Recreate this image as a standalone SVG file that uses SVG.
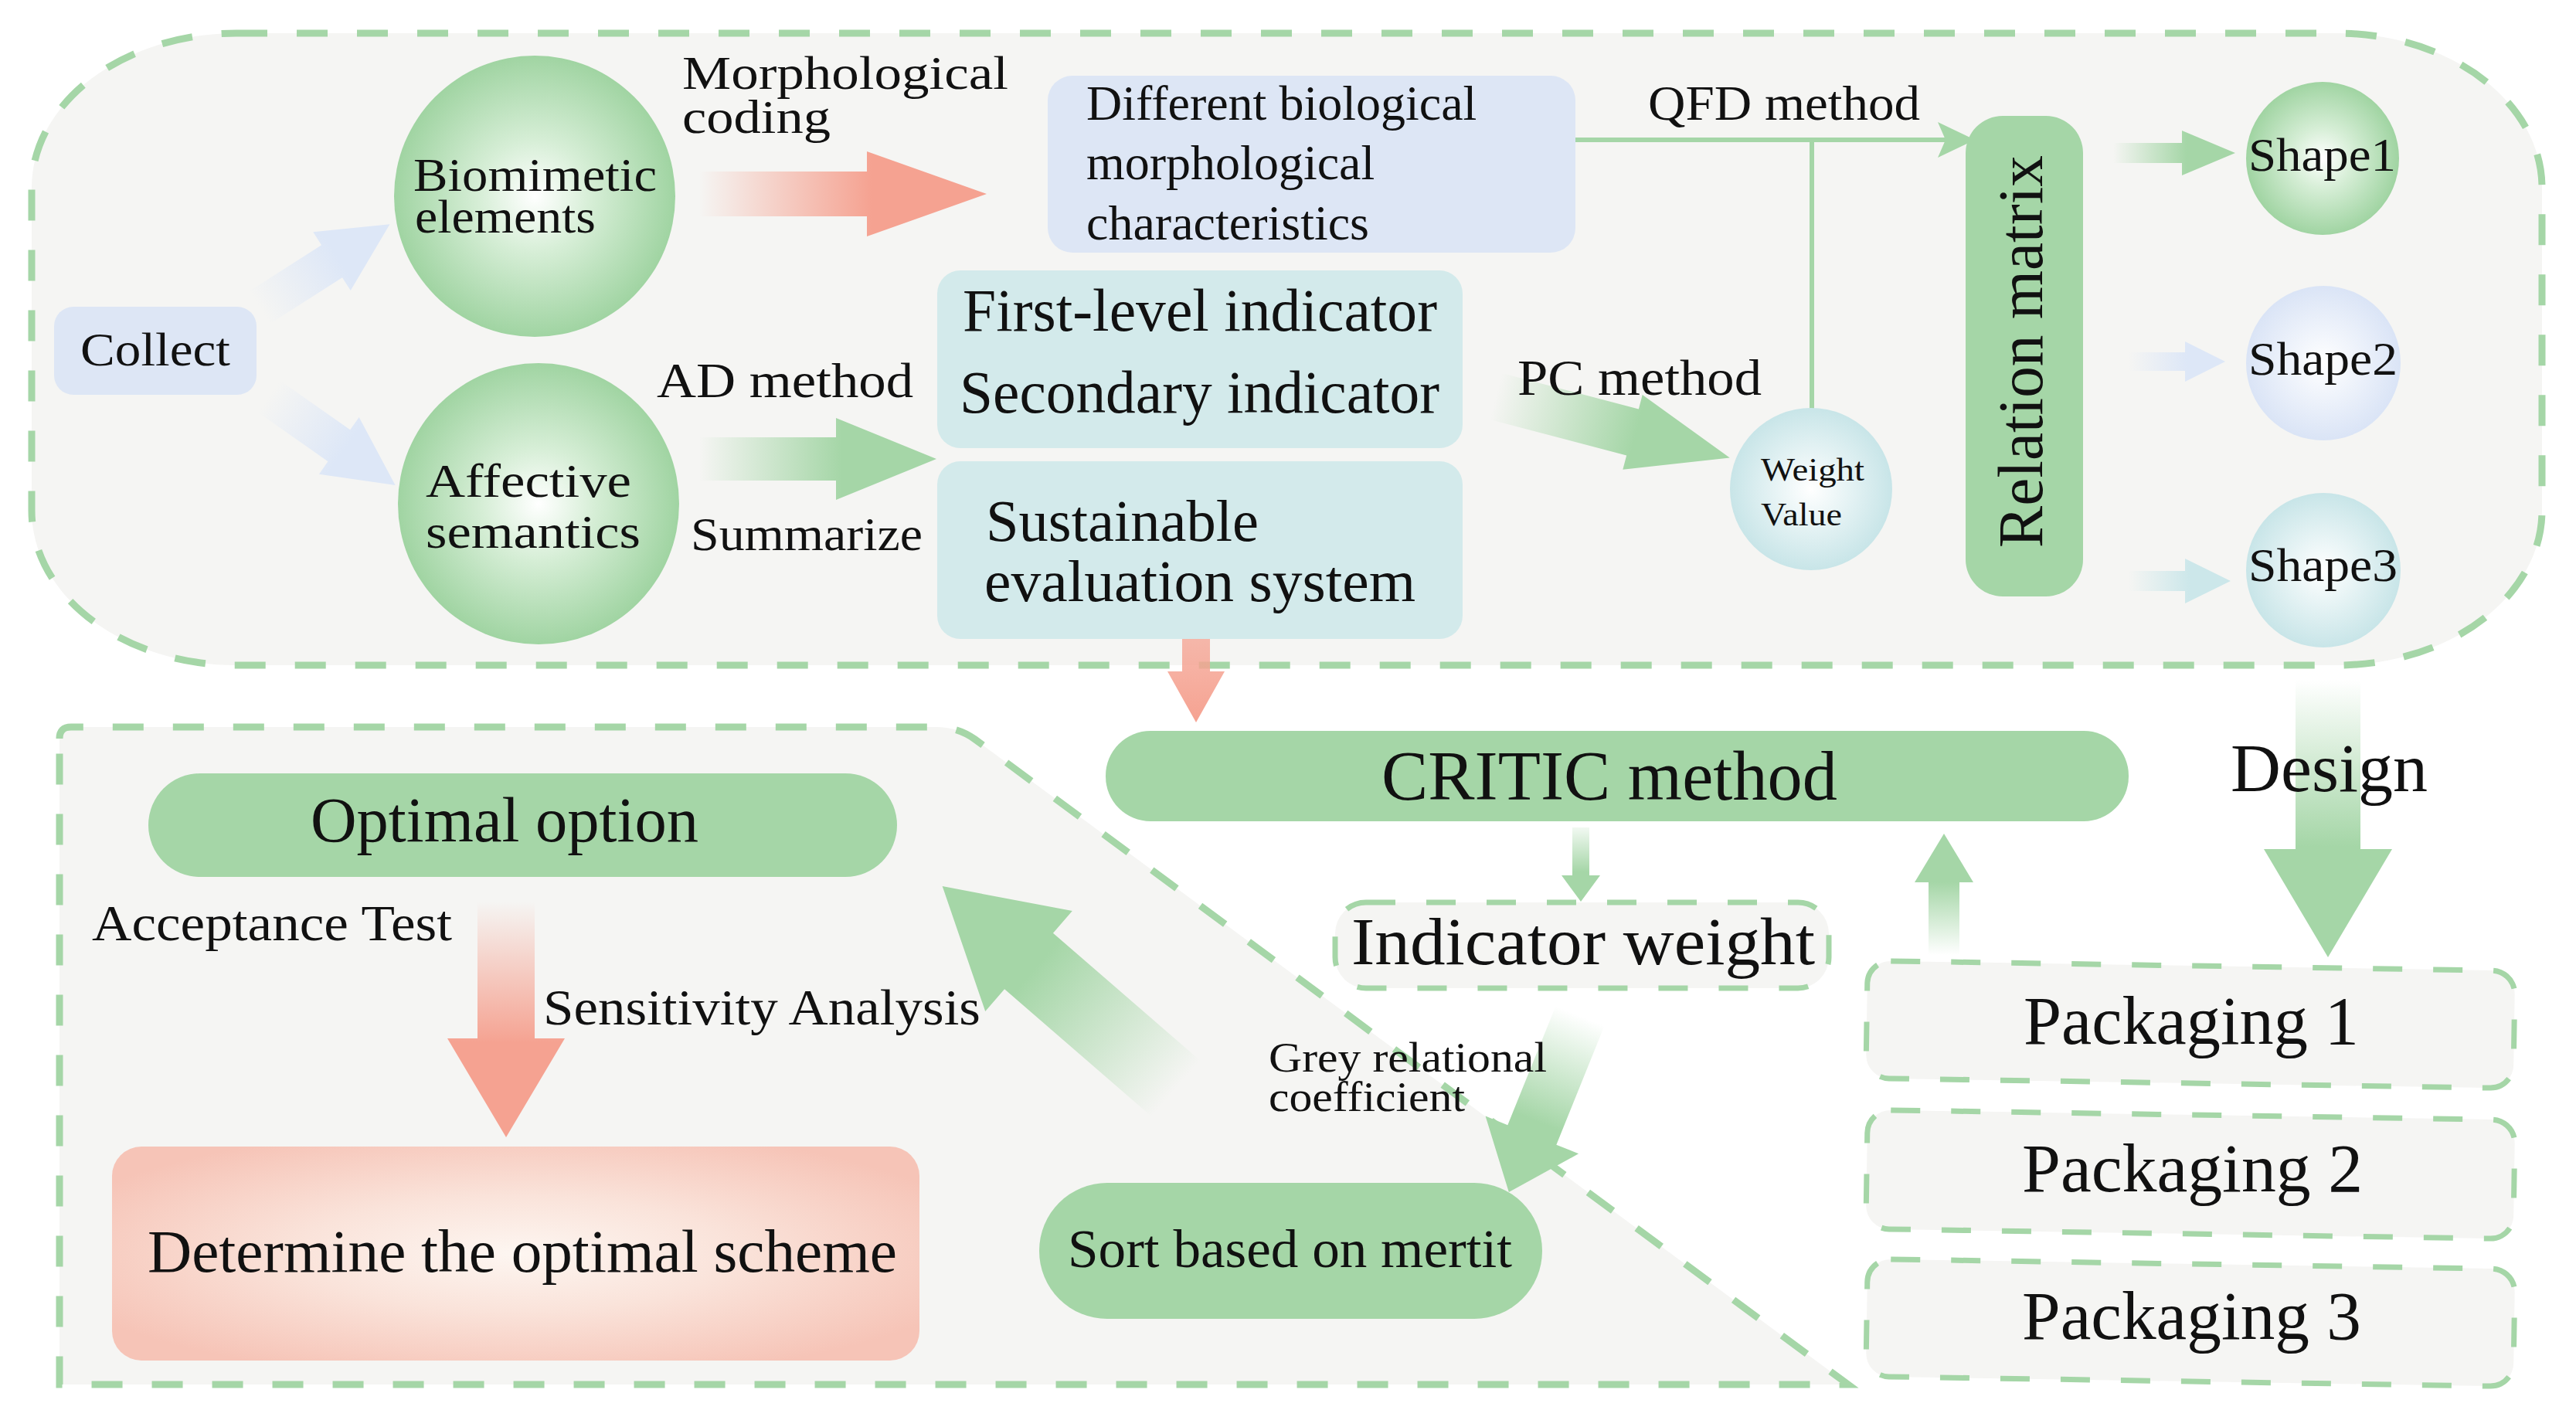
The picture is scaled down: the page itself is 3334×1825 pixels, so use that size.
<svg xmlns="http://www.w3.org/2000/svg" width="3334" height="1825" viewBox="0 0 3334 1825">
<defs>
<style>
.t{font-family:"Liberation Serif","Times New Roman",serif;fill:#111;}
.region{fill:#f5f5f3;stroke:#a5d6a7;stroke-width:9;stroke-dasharray:40 38;}
.dbox{fill:#f5f5f3;stroke:#a5d6a7;stroke-width:7;stroke-dasharray:38 40;}
.green{fill:#a5d6a7;}
.blueBox{fill:#dde6f5;}
.tealBox{fill:#d3eaeb;}
.line{stroke:#a5d6a7;stroke-width:6;fill:none;}
</style>
<linearGradient id="fGreen" x1="0" y1="0" x2="1" y2="0"><stop offset="0" stop-color="#a5d6a7" stop-opacity="0"/><stop offset="0.6" stop-color="#a5d6a7" stop-opacity="1"/></linearGradient>
<linearGradient id="fGreenS" x1="0" y1="0" x2="1" y2="0"><stop offset="0" stop-color="#a5d6a7" stop-opacity="0.15"/><stop offset="0.6" stop-color="#a5d6a7" stop-opacity="1"/></linearGradient>
<linearGradient id="fPink" x1="0" y1="0" x2="1" y2="0"><stop offset="0" stop-color="#f5a291" stop-opacity="0"/><stop offset="0.6" stop-color="#f5a291" stop-opacity="1"/></linearGradient>
<linearGradient id="fPinkS" x1="0" y1="0" x2="1" y2="0"><stop offset="0" stop-color="#f5a291" stop-opacity="0.75"/><stop offset="1" stop-color="#f5a291" stop-opacity="1"/></linearGradient>
<linearGradient id="fBlue" x1="0" y1="0" x2="1" y2="0"><stop offset="0" stop-color="#dde7f7" stop-opacity="0"/><stop offset="0.6" stop-color="#dde7f7" stop-opacity="1"/></linearGradient>
<linearGradient id="fTeal" x1="0" y1="0" x2="1" y2="0"><stop offset="0" stop-color="#cce7ea" stop-opacity="0"/><stop offset="0.6" stop-color="#cce7ea" stop-opacity="1"/></linearGradient>
<radialGradient id="rGreen" cx="0.5" cy="0.5" r="0.5"><stop offset="0" stop-color="#ffffff"/><stop offset="0.4" stop-color="#d6eed6"/><stop offset="1" stop-color="#a0d4a2"/></radialGradient>
<radialGradient id="rBlue" cx="0.5" cy="0.5" r="0.5"><stop offset="0" stop-color="#ffffff"/><stop offset="1" stop-color="#dae4f6"/></radialGradient>
<radialGradient id="rTeal" cx="0.5" cy="0.5" r="0.5"><stop offset="0" stop-color="#ffffff"/><stop offset="1" stop-color="#c8e5e8"/></radialGradient>
<radialGradient id="rPink" cx="0.5" cy="0.5" r="0.6"><stop offset="0" stop-color="#fdf6f1"/><stop offset="0.45" stop-color="#fae3da"/><stop offset="1" stop-color="#f6c4b7"/></radialGradient>
</defs>
<rect width="3334" height="1825" fill="#ffffff"/>

<g id="regions">
<rect class="region" x="41" y="43" width="3249" height="818" rx="265" ry="200"/>
<path class="region" d="M77,956 Q77,941 92,941 L1211,941 Q1240,941 1262,957 L2392,1792 L77,1792 Z"/>
</g>

<g id="connectors">
<g transform="translate(336,398) rotate(-32.6)"><path fill="url(#fBlue)" d="M0,-25 L111,-25 L111,-45 L200,0 L111,45 L111,25 L0,25Z"/></g>
<g transform="translate(348,513) rotate(35.1)"><path fill="url(#fBlue)" d="M0,-25 L111,-25 L111,-45 L200,0 L111,45 L111,25 L0,25Z"/></g>
<g transform="translate(905,251)"><path fill="url(#fPink)" d="M0,-29 L217,-29 L217,-55 L372,0 L217,55 L217,29 L0,29Z"/></g>
<g transform="translate(905,594)"><path fill="url(#fGreen)" d="M0,-28 L177,-28 L177,-53 L307,0 L177,53 L177,28 L0,28Z"/></g>
<g transform="translate(1936,513) rotate(14.7)"><path fill="url(#fGreen)" d="M0,-31 L183,-31 L183,-50 L313,0 L183,50 L183,31 L0,31Z"/></g>
<g transform="translate(2735,198)"><path fill="url(#fGreen)" d="M0,-13 L89,-13 L89,-29 L158,0 L89,29 L89,13 L0,13Z"/></g>
<g transform="translate(2755,468)"><path fill="url(#fBlue)" d="M0,-12 L73,-12 L73,-26 L125,0 L73,26 L73,12 L0,12Z"/></g>
<g transform="translate(2755,752)"><path fill="url(#fTeal)" d="M0,-13 L73,-13 L73,-29 L132,0 L73,29 L73,13 L0,13Z"/></g>
<g transform="translate(1548,827) rotate(90)"><path fill="url(#fPinkS)" d="M0,-18 L42,-18 L42,-37 L108,0 L42,37 L42,18 L0,18Z"/></g>
<g transform="translate(655,1167) rotate(90)"><path fill="url(#fPink)" d="M0,-37 L177,-37 L177,-76 L305,0 L177,76 L177,37 L0,37Z"/></g>
<g transform="translate(1522,1409) rotate(-139.1)"><path fill="url(#fGreen)" d="M0,-48 L252,-48 L252,-86 L400,0 L252,86 L252,48 L0,48Z"/></g>
<g transform="translate(2046,1071) rotate(90)"><path fill="url(#fGreenS)" d="M0,-11 L62,-11 L62,-25 L96,0 L62,25 L62,11 L0,11Z"/></g>
<g transform="translate(2045,1315) rotate(112)"><path fill="url(#fGreen)" d="M0,-34 L166,-34 L166,-65 L246,0 L166,65 L166,34 L0,34Z"/></g>
<g transform="translate(2516,1236) rotate(-90)"><path fill="url(#fGreen)" d="M0,-20 L94,-20 L94,-38 L157,0 L94,38 L94,20 L0,20Z"/></g>
<g transform="translate(3013,880) rotate(90)"><path fill="url(#fGreen)" d="M0,-42 L219,-42 L219,-83 L359,0 L219,83 L219,42 L0,42Z"/></g>
<path class="line" d="M2039,181 L2520,181"/>
<path class="line" d="M2345,181 L2345,530"/>
<polygon class="green" points="2508,158 2556,181 2508,204 2518,181"/>
</g>

<g id="collect"><rect class="blueBox" x="70" y="397" width="262" height="114" rx="25"/><text class="t" x="104" y="473" font-size="62" textLength="194" lengthAdjust="spacingAndGlyphs">Collect</text></g>
<g id="biomimetic"><circle cx="692" cy="254" r="182" fill="url(#rGreen)"/><text class="t" x="535" y="247" font-size="62" textLength="315" lengthAdjust="spacingAndGlyphs">Biomimetic</text><text class="t" x="537" y="301" font-size="62" textLength="234" lengthAdjust="spacingAndGlyphs">elements</text></g>
<g id="affective"><circle cx="697" cy="652" r="182" fill="url(#rGreen)"/><text class="t" x="551" y="643" font-size="62" textLength="266" lengthAdjust="spacingAndGlyphs">Affective</text><text class="t" x="551" y="709" font-size="62" textLength="278" lengthAdjust="spacingAndGlyphs">semantics</text></g>
<g id="morph-label"><text class="t" x="883" y="115" font-size="62" textLength="422" lengthAdjust="spacingAndGlyphs">Morphological</text><text class="t" x="883" y="172" font-size="62" textLength="192" lengthAdjust="spacingAndGlyphs">coding</text></g>
<g id="characteristics"><rect class="blueBox" x="1356" y="98" width="683" height="229" rx="32"/><text class="t" x="1406" y="155" font-size="64">Different biological</text><text class="t" x="1406" y="232" font-size="64">morphological</text><text class="t" x="1406" y="310" font-size="64">characteristics</text></g>
<g id="indicators"><rect class="tealBox" x="1213" y="350" width="680" height="230" rx="30"/><text class="t" x="1246" y="428" font-size="78" textLength="614" lengthAdjust="spacingAndGlyphs">First-level indicator</text><text class="t" x="1242" y="534" font-size="78" textLength="621" lengthAdjust="spacingAndGlyphs">Secondary indicator</text></g>
<g id="sustainable"><rect class="tealBox" x="1213" y="597" width="680" height="230" rx="30"/><text class="t" x="1276" y="700" font-size="77" textLength="353" lengthAdjust="spacingAndGlyphs">Sustainable</text><text class="t" x="1274" y="778" font-size="77" textLength="558" lengthAdjust="spacingAndGlyphs">evaluation system</text></g>
<g id="labels-top">
<text class="t" x="850" y="514" font-size="64" textLength="332" lengthAdjust="spacingAndGlyphs">AD method</text>
<text class="t" x="894" y="712" font-size="62" textLength="300" lengthAdjust="spacingAndGlyphs">Summarize</text>
<text class="t" x="2133" y="155" font-size="64" textLength="352" lengthAdjust="spacingAndGlyphs">QFD method</text>
<text class="t" x="1964" y="511" font-size="66" textLength="316" lengthAdjust="spacingAndGlyphs">PC method</text>
</g>
<g id="weight-value"><circle cx="2344" cy="633" r="105" fill="url(#rTeal)"/><text class="t" x="2279" y="622" font-size="42" textLength="134" lengthAdjust="spacingAndGlyphs">Weight</text><text class="t" x="2279" y="680" font-size="42" textLength="105" lengthAdjust="spacingAndGlyphs">Value</text></g>
<g id="relation-matrix"><rect class="green" x="2544" y="150" width="152" height="622" rx="48"/><text class="t" transform="translate(2643,455) rotate(-90)" x="0" y="0" text-anchor="middle" font-size="82" textLength="508" lengthAdjust="spacingAndGlyphs">Relation matrix</text></g>
<g id="shape1"><circle cx="3006" cy="205" r="99" fill="url(#rGreen)"/><text class="t" x="2910" y="221" font-size="62" textLength="191" lengthAdjust="spacingAndGlyphs">Shape1</text></g>
<g id="shape2"><circle cx="3007" cy="470" r="100" fill="url(#rBlue)"/><text class="t" x="2910" y="485" font-size="62" textLength="193" lengthAdjust="spacingAndGlyphs">Shape2</text></g>
<g id="shape3"><circle cx="3007" cy="738" r="100" fill="url(#rTeal)"/><text class="t" x="2910" y="752" font-size="62" textLength="193" lengthAdjust="spacingAndGlyphs">Shape3</text></g>

<g id="critic"><rect class="green" x="1431" y="946" width="1324" height="117" rx="58"/><text class="t" x="1788" y="1035" font-size="90" textLength="590" lengthAdjust="spacingAndGlyphs">CRITIC method</text></g>
<g id="design-label"><text class="t" x="2887" y="1024" font-size="88" textLength="255" lengthAdjust="spacingAndGlyphs">Design</text></g>
<g id="indicator-weight"><rect class="dbox" x="1728" y="1168" width="639" height="111" rx="40" stroke-dasharray="28 26"/><text class="t" x="1749" y="1248" font-size="86" textLength="600" lengthAdjust="spacingAndGlyphs">Indicator weight</text></g>
<g id="packaging1"><rect class="dbox" x="2416" y="1250" width="838" height="152" rx="30" transform="rotate(0.9 2835 1326)"/><text class="t" x="2619" y="1351" font-size="88" textLength="434" lengthAdjust="spacingAndGlyphs">Packaging 1</text></g>
<g id="packaging2"><rect class="dbox" x="2416" y="1443" width="838" height="154" rx="30" transform="rotate(0.9 2835 1520)"/><text class="t" x="2617" y="1542" font-size="88" textLength="441" lengthAdjust="spacingAndGlyphs">Packaging 2</text></g>
<g id="packaging3"><rect class="dbox" x="2416" y="1636" width="838" height="152" rx="30" transform="rotate(0.9 2835 1712)"/><text class="t" x="2617" y="1733" font-size="88" textLength="439" lengthAdjust="spacingAndGlyphs">Packaging 3</text></g>

<g id="optimal-option"><rect class="green" x="192" y="1001" width="969" height="134" rx="67"/><text class="t" x="402" y="1089" font-size="82" textLength="502" lengthAdjust="spacingAndGlyphs">Optimal option</text></g>
<g id="labels-bottom">
<text class="t" x="119" y="1217" font-size="66" textLength="466" lengthAdjust="spacingAndGlyphs">Acceptance Test</text>
<text class="t" x="703" y="1326" font-size="66" textLength="566" lengthAdjust="spacingAndGlyphs">Sensitivity Analysis</text>
<text class="t" x="1642" y="1387" font-size="55" textLength="360" lengthAdjust="spacingAndGlyphs">Grey relational</text>
<text class="t" x="1642" y="1438" font-size="55" textLength="254" lengthAdjust="spacingAndGlyphs">coefficient</text>
</g>
<g id="optimal-scheme"><rect x="145" y="1484" width="1045" height="277" rx="38" fill="url(#rPink)"/><text class="t" x="191" y="1646" font-size="78" textLength="970" lengthAdjust="spacingAndGlyphs">Determine the optimal scheme</text></g>
<g id="sort"><rect class="green" x="1345" y="1531" width="651" height="176" rx="88"/><text class="t" x="1382" y="1640" font-size="70" textLength="575" lengthAdjust="spacingAndGlyphs">Sort based on mertit</text></g>
</svg>
